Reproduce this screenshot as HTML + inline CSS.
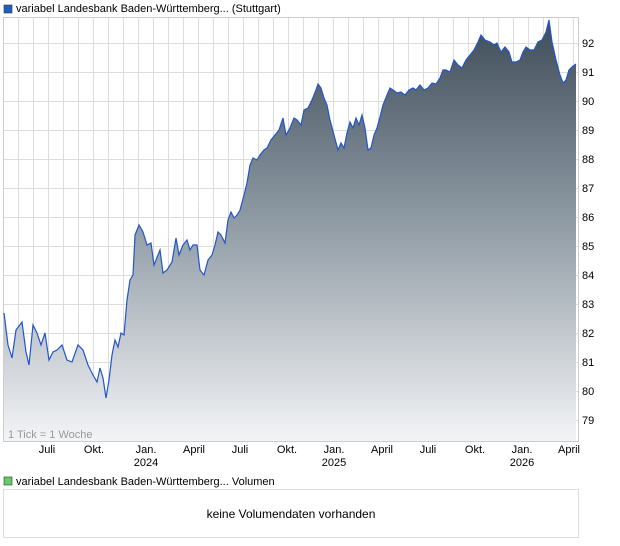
<!DOCTYPE html>
<html><head><meta charset="utf-8"><style>
body{margin:0;width:620px;height:546px;background:#fff;font-family:"Liberation Sans",sans-serif;overflow:hidden;position:relative}
</style></head><body>
<svg width="620" height="546" style="position:absolute;left:0;top:0" font-family="Liberation Sans, sans-serif" font-size="11">
<defs><linearGradient id="g" gradientUnits="userSpaceOnUse" x1="0" y1="20" x2="0" y2="441">
<stop offset="0" stop-color="#3f4d59"/><stop offset="0.45" stop-color="#8a96a0"/><stop offset="1" stop-color="#f3f4f6"/></linearGradient></defs>
<rect x="4" y="5" width="8" height="8" fill="#1f5fbf" stroke="#333" stroke-width="0.6"/>
<text x="16" y="12">variabel Landesbank Baden-Württemberg... (Stuttgart)</text>
<rect x="3.5" y="17.5" width="575" height="424" fill="#fff" stroke="#ccc"/>
<g stroke="#ddd" stroke-width="1">
<path d="M18.5 18V441M33.5 18V441M48.5 18V441M63.5 18V441M78.5 18V441M93.5 18V441M108.5 18V441M123.5 18V441M138.5 18V441M153.5 18V441M168.5 18V441M183.5 18V441M198.5 18V441M213.5 18V441M228.5 18V441M243.5 18V441M258.5 18V441M273.5 18V441M288.5 18V441M303.5 18V441M318.5 18V441M333.5 18V441M348.5 18V441M363.5 18V441M378.5 18V441M393.5 18V441M408.5 18V441M423.5 18V441M438.5 18V441M453.5 18V441M468.5 18V441M483.5 18V441M498.5 18V441M513.5 18V441M528.5 18V441M543.5 18V441M558.5 18V441M573.5 18V441"/>
<path d="M4 43.5H578M4 72.5H578M4 101.5H578M4 130.5H578M4 159.5H578M4 188.5H578M4 217.5H578M4 246.5H578M4 275.5H578M4 304.5H578M4 333.5H578M4 362.5H578M4 391.5H578M4 420.5H578"/>
</g>
<path fill="url(#g)" stroke="none" d="M4,313 L8,345 12,358 16,330 22,322 26,352 29,365 33,325 37,333 41,345 45,333 49,360 53,352 57,350 62,345 67,360 72,362 78,345 83,350 88,365 93,375 97,382 100,368 103,378 106,398 109,380 112,355 115,340 118,347 121,333 124,335 127,300 130,280 133,275 135,235 139,225 143,232 147,245 151,243 154,265 158,255 160,250 163,273 167,270 172,262 176,238 179,255 183,245 187,240 190,250 193,245 197,245 200,270 204,275 208,260 212,255 215,245 218,232 221,235 225,243 228,220 231,212 234,218 237,215 240,210 244,195 247,183 250,165 253,158 257,160 260,155 264,150 267,148 271,140 275,135 279,130 283,118 286,135 290,128 294,118 297,120 301,125 304,110 308,108 312,100 316,90 318,84 321,88 324,98 327,105 330,120 334,135 338,150 341,143 344,148 347,133 350,122 353,128 356,118 359,125 362,115 365,128 368,150 371,148 374,135 377,128 380,117 383,105 387,95 390,88 393,90 397,93 401,92 405,95 409,90 413,88 416,90 420,85 424,90 428,88 432,83 436,84 440,78 443,70 446,70 450,72 454,60 458,65 462,68 466,60 470,55 474,50 478,42 481,35 485,40 490,42 494,45 497,43 501,52 505,47 509,52 512,62 516,62 520,60 523,52 526,47 530,50 534,50 538,42 542,40 546,32 549,20 552,42 556,60 560,75 563,83 566,80 569,70 572,67 576,64 L576,441 L4,441 Z"/>
<polyline fill="none" stroke="#2255cc" stroke-width="1.2" points="4,313 8,345 12,358 16,330 22,322 26,352 29,365 33,325 37,333 41,345 45,333 49,360 53,352 57,350 62,345 67,360 72,362 78,345 83,350 88,365 93,375 97,382 100,368 103,378 106,398 109,380 112,355 115,340 118,347 121,333 124,335 127,300 130,280 133,275 135,235 139,225 143,232 147,245 151,243 154,265 158,255 160,250 163,273 167,270 172,262 176,238 179,255 183,245 187,240 190,250 193,245 197,245 200,270 204,275 208,260 212,255 215,245 218,232 221,235 225,243 228,220 231,212 234,218 237,215 240,210 244,195 247,183 250,165 253,158 257,160 260,155 264,150 267,148 271,140 275,135 279,130 283,118 286,135 290,128 294,118 297,120 301,125 304,110 308,108 312,100 316,90 318,84 321,88 324,98 327,105 330,120 334,135 338,150 341,143 344,148 347,133 350,122 353,128 356,118 359,125 362,115 365,128 368,150 371,148 374,135 377,128 380,117 383,105 387,95 390,88 393,90 397,93 401,92 405,95 409,90 413,88 416,90 420,85 424,90 428,88 432,83 436,84 440,78 443,70 446,70 450,72 454,60 458,65 462,68 466,60 470,55 474,50 478,42 481,35 485,40 490,42 494,45 497,43 501,52 505,47 509,52 512,62 516,62 520,60 523,52 526,47 530,50 534,50 538,42 542,40 546,32 549,20 552,42 556,60 560,75 563,83 566,80 569,70 572,67 576,64"/>
<text x="192" y="213" font-size="22" fill="#fff" fill-opacity="0.25">Aktie</text>
<text x="8" y="438" fill="#999">1 Tick = 1 Woche</text>
<g>
<text x="582" y="47">92</text><text x="582" y="76">91</text><text x="582" y="105">90</text><text x="582" y="134">89</text><text x="582" y="163">88</text><text x="582" y="192">87</text><text x="582" y="221">86</text><text x="582" y="250">85</text><text x="582" y="279">84</text><text x="582" y="308">83</text><text x="582" y="337">82</text><text x="582" y="366">81</text><text x="582" y="395">80</text><text x="582" y="424">79</text>
</g>
<g text-anchor="middle">
<text x="47" y="453">Juli</text><text x="94" y="453">Okt.</text><text x="146" y="453">Jan.</text><text x="146" y="466">2024</text><text x="194" y="453">April</text><text x="240" y="453">Juli</text><text x="287" y="453">Okt.</text><text x="334" y="453">Jan.</text><text x="334" y="466">2025</text><text x="382" y="453">April</text><text x="428" y="453">Juli</text><text x="475" y="453">Okt.</text><text x="522" y="453">Jan.</text><text x="522" y="466">2026</text><text x="569" y="453">April</text>
</g>
<rect x="4" y="477" width="8" height="8" fill="#6c6" stroke="#333" stroke-width="0.6"/>
<text x="16" y="485">variabel Landesbank Baden-Württemberg... Volumen</text>
<rect x="3.5" y="489.5" width="575" height="48" fill="#fff" stroke="#ddd"/>
<text x="291" y="518" text-anchor="middle" font-size="12">keine Volumendaten vorhanden</text>
</svg>
</body></html>
